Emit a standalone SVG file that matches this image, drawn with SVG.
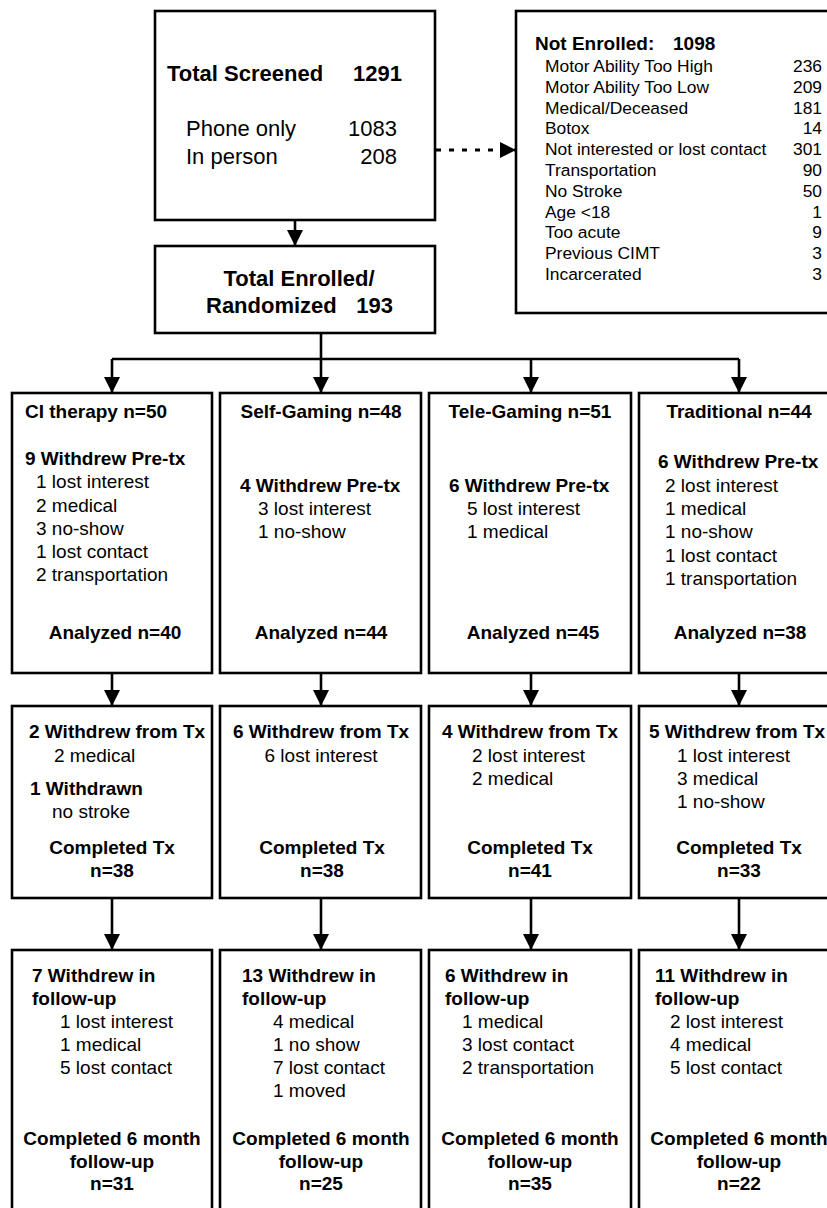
<svg xmlns="http://www.w3.org/2000/svg" width="827" height="1208" viewBox="0 0 827 1208">
<style>
text{font-family:"Liberation Sans",Arial,Helvetica,sans-serif;fill:#000}
.box{fill:#fff;stroke:#000;stroke-width:2.6}
.t{font-size:19px}
.b{font-weight:bold}
.big{font-size:22px}
.ne{font-size:17.4px}
.c{text-anchor:middle}
.r{text-anchor:end}
.ln{fill:none;stroke:#000;stroke-width:2.6}
.dot{fill:none;stroke:#000;stroke-width:3;stroke-dasharray:5 8}
</style>
<defs>
<marker id="ah" markerUnits="userSpaceOnUse" markerWidth="16" markerHeight="16" viewBox="0 0 16 16" refX="16" refY="8" orient="auto">
<polygon points="0,0 16,8 0,16" fill="#000"/>
</marker>
</defs>
<rect width="827" height="1208" fill="#fff"/>

<g id="connectors">
<line class="ln" x1="295" y1="220" x2="295" y2="246" marker-end="url(#ah)"/>
<line class="dot" x1="436" y1="150" x2="516" y2="150" marker-end="url(#ah)"/>
<polyline class="ln" points="321,333 321,359"/>
<polyline class="ln" points="112,359 739,359"/>
<line class="ln" x1="112" y1="359" x2="112" y2="393" marker-end="url(#ah)"/>
<line class="ln" x1="321" y1="359" x2="321" y2="393" marker-end="url(#ah)"/>
<line class="ln" x1="531" y1="359" x2="531" y2="393" marker-end="url(#ah)"/>
<line class="ln" x1="739" y1="359" x2="739" y2="393" marker-end="url(#ah)"/>
<line class="ln" x1="112" y1="673" x2="112" y2="706" marker-end="url(#ah)"/>
<line class="ln" x1="321" y1="673" x2="321" y2="706" marker-end="url(#ah)"/>
<line class="ln" x1="531" y1="673" x2="531" y2="706" marker-end="url(#ah)"/>
<line class="ln" x1="739" y1="673" x2="739" y2="706" marker-end="url(#ah)"/>
<line class="ln" x1="112" y1="898" x2="112" y2="950" marker-end="url(#ah)"/>
<line class="ln" x1="321" y1="898" x2="321" y2="950" marker-end="url(#ah)"/>
<line class="ln" x1="531" y1="898" x2="531" y2="950" marker-end="url(#ah)"/>
<line class="ln" x1="739" y1="898" x2="739" y2="950" marker-end="url(#ah)"/>
</g>

<g id="screened">
<rect class="box" x="155" y="11" width="280" height="209"/>
<text class="big b" x="167" y="81">Total Screened</text>
<text class="big b" x="353" y="81">1291</text>
<text class="big" x="186" y="136">Phone only</text>
<text class="big r" x="397" y="136">1083</text>
<text class="big" x="186" y="164">In person</text>
<text class="big r" x="397" y="164">208</text>
</g>

<g id="enrolled">
<rect class="box" x="155" y="246" width="280" height="87"/>
<text class="big b c" x="299" y="286">Total Enrolled/</text>
<text class="big b" x="206" y="313">Randomized</text>
<text class="big b r" x="393" y="313">193</text>
</g>

<g id="not-enrolled">
<rect class="box" x="516" y="11" width="330" height="302"/>
<text class="t b" x="535" y="50">Not Enrolled:</text>
<text class="t b" x="673" y="50">1098</text>
<text class="ne" x="545" y="72">Motor Ability Too High</text><text class="ne r" x="822" y="72">236</text>
<text class="ne" x="545" y="92.8">Motor Ability Too Low</text><text class="ne r" x="822" y="92.8">209</text>
<text class="ne" x="545" y="113.6">Medical/Deceased</text><text class="ne r" x="822" y="113.6">181</text>
<text class="ne" x="545" y="134.4">Botox</text><text class="ne r" x="822" y="134.4">14</text>
<text class="ne" x="545" y="155.2">Not interested or lost contact</text><text class="ne r" x="822" y="155.2">301</text>
<text class="ne" x="545" y="176">Transportation</text><text class="ne r" x="822" y="176">90</text>
<text class="ne" x="545" y="196.8">No Stroke</text><text class="ne r" x="822" y="196.8">50</text>
<text class="ne" x="545" y="217.6">Age &lt;18</text><text class="ne r" x="822" y="217.6">1</text>
<text class="ne" x="545" y="238.4">Too acute</text><text class="ne r" x="822" y="238.4">9</text>
<text class="ne" x="545" y="259.2">Previous CIMT</text><text class="ne r" x="822" y="259.2">3</text>
<text class="ne" x="545" y="280">Incarcerated</text><text class="ne r" x="822" y="280">3</text>
</g>

<g id="ci-pre">
<rect class="box" x="12" y="393" width="200" height="280"/>
<text class="t b" x="25" y="418">CI therapy n=50</text>
<text class="t b" x="25" y="465">9 Withdrew Pre-tx</text>
<text class="t" x="36" y="488">1 lost interest</text>
<text class="t" x="36" y="512">2 medical</text>
<text class="t" x="36" y="535">3 no-show</text>
<text class="t" x="36" y="558">1 lost contact</text>
<text class="t" x="36" y="581">2 transportation</text>
<text class="t b c" x="115" y="639">Analyzed n=40</text>
</g>

<g id="self-pre">
<rect class="box" x="220" y="393" width="201" height="280"/>
<text class="t b c" x="321" y="418">Self-Gaming n=48</text>
<text class="t b" x="240" y="492">4 Withdrew Pre-tx</text>
<text class="t" x="258" y="515">3 lost interest</text>
<text class="t" x="258" y="538">1 no-show</text>
<text class="t b c" x="321" y="639">Analyzed n=44</text>
</g>

<g id="tele-pre">
<rect class="box" x="429" y="393" width="202" height="280"/>
<text class="t b c" x="530" y="418">Tele-Gaming n=51</text>
<text class="t b" x="449" y="492">6 Withdrew Pre-tx</text>
<text class="t" x="467" y="515">5 lost interest</text>
<text class="t" x="467" y="538">1 medical</text>
<text class="t b c" x="533" y="639">Analyzed n=45</text>
</g>

<g id="trad-pre">
<rect class="box" x="639" y="393" width="202" height="280"/>
<text class="t b c" x="739" y="418">Traditional n=44</text>
<text class="t b" x="658" y="468">6 Withdrew Pre-tx</text>
<text class="t" x="665" y="492">2 lost interest</text>
<text class="t" x="665" y="515">1 medical</text>
<text class="t" x="665" y="538">1 no-show</text>
<text class="t" x="665" y="562">1 lost contact</text>
<text class="t" x="665" y="585">1 transportation</text>
<text class="t b c" x="740" y="639">Analyzed n=38</text>
</g>

<g id="ci-tx">
<rect class="box" x="12" y="706" width="200" height="192"/>
<text class="t b" x="29" y="738">2 Withdrew from Tx</text>
<text class="t" x="54" y="762">2 medical</text>
<text class="t b" x="30" y="795">1 Withdrawn</text>
<text class="t" x="52" y="818">no stroke</text>
<text class="t b c" x="112" y="854">Completed Tx</text>
<text class="t b c" x="112" y="877">n=38</text>
</g>

<g id="self-tx">
<rect class="box" x="220" y="706" width="201" height="192"/>
<text class="t b c" x="321" y="738">6 Withdrew from Tx</text>
<text class="t c" x="321" y="762">6 lost interest</text>
<text class="t b c" x="322" y="854">Completed Tx</text>
<text class="t b c" x="322" y="877">n=38</text>
</g>

<g id="tele-tx">
<rect class="box" x="429" y="706" width="202" height="192"/>
<text class="t b c" x="530" y="738">4 Withdrew from Tx</text>
<text class="t" x="472" y="762">2 lost interest</text>
<text class="t" x="472" y="785">2 medical</text>
<text class="t b c" x="530" y="854">Completed Tx</text>
<text class="t b c" x="530" y="877">n=41</text>
</g>

<g id="trad-tx">
<rect class="box" x="639" y="706" width="202" height="192"/>
<text class="t b" x="649" y="738">5 Withdrew from Tx</text>
<text class="t" x="677" y="762">1 lost interest</text>
<text class="t" x="677" y="785">3 medical</text>
<text class="t" x="677" y="808">1 no-show</text>
<text class="t b c" x="739" y="854">Completed Tx</text>
<text class="t b c" x="739" y="877">n=33</text>
</g>

<g id="ci-fu">
<rect class="box" x="12" y="950" width="200" height="280"/>
<text class="t b" x="32" y="982">7 Withdrew in</text>
<text class="t b" x="32" y="1005">follow-up</text>
<text class="t" x="60" y="1028">1 lost interest</text>
<text class="t" x="60" y="1051">1 medical</text>
<text class="t" x="60" y="1074">5 lost contact</text>
<text class="t b c" x="112" y="1145">Completed 6 month</text>
<text class="t b c" x="112" y="1168">follow-up</text>
<text class="t b c" x="112" y="1190">n=31</text>
</g>

<g id="self-fu">
<rect class="box" x="220" y="950" width="201" height="280"/>
<text class="t b" x="242" y="982">13 Withdrew in</text>
<text class="t b" x="242" y="1005">follow-up</text>
<text class="t" x="273" y="1028">4 medical</text>
<text class="t" x="273" y="1051">1 no show</text>
<text class="t" x="273" y="1074">7 lost contact</text>
<text class="t" x="273" y="1097">1 moved</text>
<text class="t b c" x="321" y="1145">Completed 6 month</text>
<text class="t b c" x="321" y="1168">follow-up</text>
<text class="t b c" x="321" y="1190">n=25</text>
</g>

<g id="tele-fu">
<rect class="box" x="429" y="950" width="202" height="280"/>
<text class="t b" x="445" y="982">6 Withdrew in</text>
<text class="t b" x="445" y="1005">follow-up</text>
<text class="t" x="462" y="1028">1 medical</text>
<text class="t" x="462" y="1051">3 lost contact</text>
<text class="t" x="462" y="1074">2 transportation</text>
<text class="t b c" x="530" y="1145">Completed 6 month</text>
<text class="t b c" x="530" y="1168">follow-up</text>
<text class="t b c" x="530" y="1190">n=35</text>
</g>

<g id="trad-fu">
<rect class="box" x="639" y="950" width="202" height="280"/>
<text class="t b" x="655" y="982">11 Withdrew in</text>
<text class="t b" x="655" y="1005">follow-up</text>
<text class="t" x="670" y="1028">2 lost interest</text>
<text class="t" x="670" y="1051">4 medical</text>
<text class="t" x="670" y="1074">5 lost contact</text>
<text class="t b c" x="739" y="1145">Completed 6 month</text>
<text class="t b c" x="739" y="1168">follow-up</text>
<text class="t b c" x="739" y="1190">n=22</text>
</g>
</svg>
